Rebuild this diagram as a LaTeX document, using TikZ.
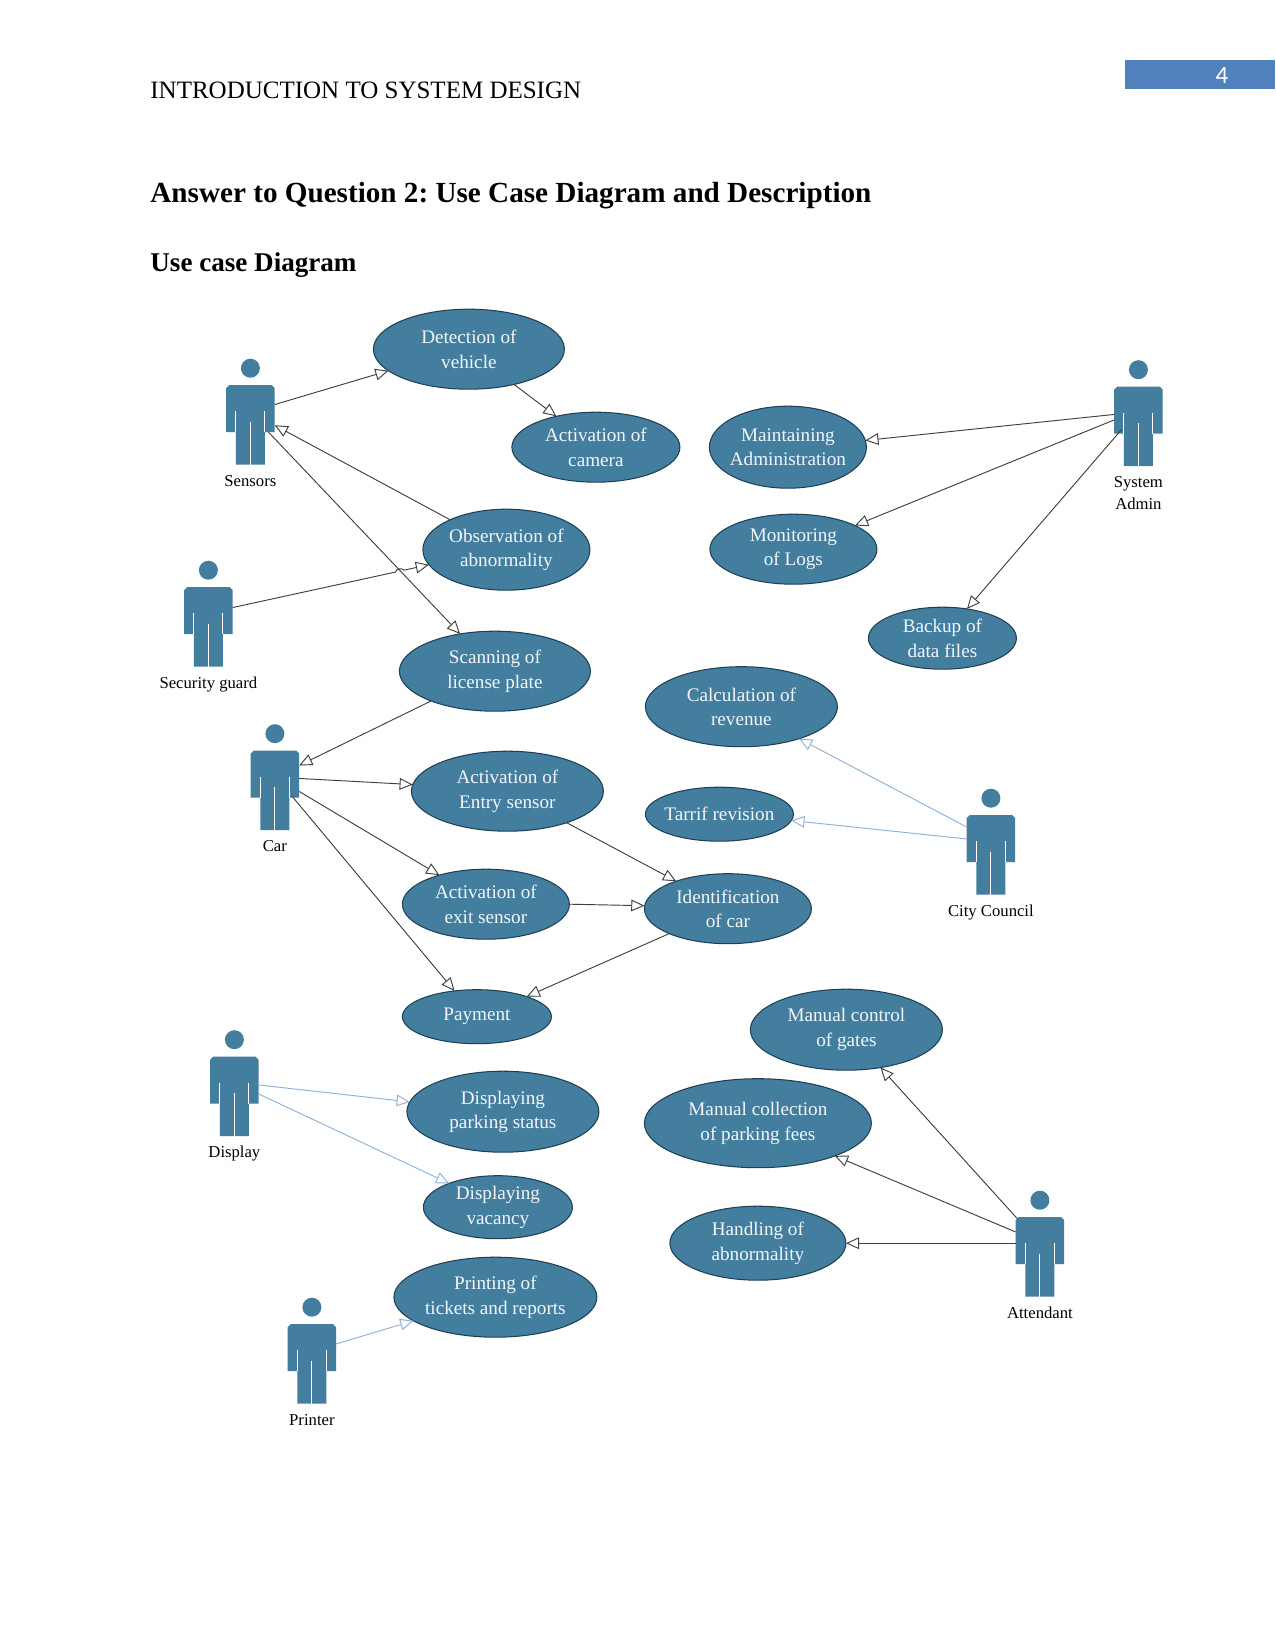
\documentclass[tikz,border=0pt]{standalone}
\usepackage{fontspec}
\setmainfont{Liberation Serif}
\newfontfamily\pagenumfont{Carlito}
\usetikzlibrary{shapes.geometric,arrows.meta,calc}
\definecolor{ucfill}{HTML}{437E9F}
\definecolor{ucedge}{HTML}{1F3F55}
\definecolor{uctext}{HTML}{F2F6F9}
\definecolor{assocdark}{HTML}{3F3F3F}
\definecolor{assoclight}{HTML}{8FB2D8}
\definecolor{bandblue}{HTML}{4F81BD}
\tikzset{
  usecase/.style 2 args={ellipse,draw=ucedge,line width=0.5pt,fill=ucfill,text=uctext,
    minimum width=#1*0.48pt,minimum height=#2*0.48pt,inner ysep=0pt,inner xsep=-4pt,
    outer sep=0pt,align=center,font=\fontsize{9.2}{11.8}\selectfont},
  actorbox/.style={rectangle,minimum width=48.6*0.48pt,minimum height=106.5*0.48pt,
    inner sep=0pt,outer sep=0pt},
  actorlabel/.style={anchor=north,inner sep=0pt,align=center,
    font=\fontsize{8}{10.5}\selectfont},
  assoc/.style={draw=assocdark,line width=0.45pt,
    -{Triangle[open,length=6.3pt,width=5.6pt]}},
  assoclt/.style={assoc,draw=assoclight},
  bodytext/.style={anchor=base west,inner sep=0pt},
}
% Stick figure: #1 name, #2 and #3 centre of the head, #4 caption
\newcommand\actorfig[4]{%
  \begin{scope}[shift={(#2,#3)}]
    \fill[ucfill] (0,0) circle[radius=9.5*0.48pt];
    \fill[ucfill] (-24.3,64) -- (-24.3,20) -- (-21.3,17) -- (21.3,17) -- (24.3,20) -- (24.3,64)
      -- (14.5,64) -- (14.5,96.5) -- (-14.5,96.5) -- (-14.5,64) -- cycle;
    \draw[white,line width=0.45pt] (-14.5,43) -- (-14.5,64) (14.5,43) -- (14.5,64) (0,53.5) -- (0,97);
    \node[actorbox] (#1) at (0,43.75) {};
    \node[actorlabel] (#1-caption) at (0,102.5) {\strut#4};
  \end{scope}}
\begin{document}
\frenchspacing
\begin{tikzpicture}[x=0.48pt,y=-0.48pt]
\path[use as bounding box,fill=white] (0,0) rectangle (1275,1650);

% Running head and headings
\fill[bandblue] (1125,60.5) rectangle (1275,89.5);
\node[text=white,inner sep=0pt,font=\pagenumfont\fontsize{12}{14}\selectfont] (pagenum) at (1222,75) {4};
\node[bodytext,font=\fontsize{12}{14}\selectfont] (runhead) at (150,99) {INTRODUCTION TO SYSTEM DESIGN};
\node[bodytext,font=\bfseries\fontsize{14}{16}\selectfont] (h1) at (150,203) {Answer to Question 2: Use Case Diagram and Description};
\node[bodytext,font=\bfseries\fontsize{13}{15}\selectfont] (h2) at (150,272) {Use case Diagram};

\begin{scope}[shift={(0.4,0.2)}]
% Use cases
\node[usecase={191}{80}] (detect) at (468.5,349) {Detection of\\ vehicle};
\node[usecase={168}{70}] (camera) at (595.5,447) {Activation of\\ camera};
\node[usecase={167}{81}] (observe) at (506,549.5) {Observation of\\ abnormality};
\node[usecase={191}{80}] (scan) at (494.5,671) {Scanning of\\ license plate};
\node[usecase={157}{82}] (maintain) at (787.5,447) {Maintaining\\ Administration};
\node[usecase={167}{70}] (monitor) at (793,549) {Monitoring\\ of Logs};
\node[usecase={148}{62}] (backup) at (942,638) {Backup of\\ data files};
\node[usecase={192}{80}] (revenue) at (741,706.5) {Calculation of\\ revenue};
\node[usecase={148}{54}] (tariff) at (719,814) {Tarrif revision};
\node[usecase={192}{80}] (entry) at (507,791) {Activation of\\ Entry sensor};
\node[usecase={167}{70}] (exit) at (485.5,904) {Activation of\\ exit sensor};
\node[usecase={167}{70}] (identify) at (727.5,908.5) {Identification\\ of car};
\node[usecase={149}{54}] (payment) at (476.5,1016.5) {Payment};
\node[usecase={192}{81}] (gates) at (846,1029.5) {Manual control\\ of gates};
\node[usecase={227}{89}] (fees) at (757.5,1123) {Manual collection\\ of parking fees};
\node[usecase={176}{74}] (handling) at (757.5,1243) {Handling of\\ abnormality};
\node[usecase={192}{81}] (status) at (502.5,1111.5) {Displaying\\ parking status};
\node[usecase={149}{63}] (vacancy) at (497.5,1207) {Displaying\\ vacancy};
\node[usecase={203}{80}] (printing) at (495,1297) {Printing of\\ tickets and reports};

% Actors
\actorfig{sensors}{250}{368}{Sensors}
\actorfig{guard}{208}{570}{Security guard}
\actorfig{car}{274.5}{733.5}{Car}
\actorfig{admin}{1138}{369.5}{System\\ Admin}
\actorfig{council}{990.5}{798}{City Council}
\actorfig{display}{234}{1039.5}{Display}
\actorfig{attendant}{1039.5}{1200}{Attendant}
\actorfig{printer}{311.5}{1307}{Printer}

% Associations
\draw[assoc] ([shift={(0,-7.4)}]sensors.east) -- (detect.195.5);
\draw[assoc] (detect.322) -- (camera.142.6);
\draw[assoc] (observe.152) -- ([shift={(0,13.3)}]sensors.east);
\draw[assoc] ([shift={(-6.4,20)}]sensors.east) -- (scan.133);

% The guard's line hops over the sensor line where they cross
\coordinate (guardstart) at ([shift={(0,-6.4)}]guard.east);
\coordinate (guardend) at (observe.191.5);
\draw[assoc] (guardstart) -- ($(guardstart)!0.83!(guardend)$)
  to[bend left=70] ($(guardstart)!0.872!(guardend)$) -- (guardend);

\draw[assoc] (scan.205.8) -- ([shift={(0,-12)}]car.east);
\draw[assoc] ([shift={(0,1)}]car.east) -- (entry.176.4);
\draw[assoc] ([shift={(0,14)}]car.east) -- (exit.148.8);
\draw[assoc] ([shift={(-7,19)}]car.east) -- (payment.131);
\draw[assoc] (entry.332.5) -- (identify.152.2);
\draw[assoc] (exit.east) -- ([shift={(0,-3)}]identify.west);
\draw[assoc] (identify.203) -- (payment.22.8);

\draw[assoc] ([shift={(0,1)}]admin.west) -- (maintain.5.2);
\draw[assoc] ([shift={(0,6.5)}]admin.west) -- (monitor.21.8);
\draw[assoc] ([shift={(7.5,16)}]admin.west) -- (backup.50.2);

\draw[assoclt] ([shift={(0,-15)}]council.west) -- (revenue.331.3);
\draw[assoclt] ([shift={(0,-3)}]council.west) -- (tariff.355);

\draw[assoclt] ([shift={(0,1.5)}]display.east) -- (status.174);
\draw[assoclt] ([shift={(0,10.5)}]display.east) -- (vacancy.154);
\draw[assoclt] ([shift={(0,-7)}]printer.east) -- (printing.196.5);

\draw[assoc] ([shift={(2,-25)}]attendant.west) -- (gates.312);
\draw[assoc] ([shift={(0,-12)}]attendant.west) -- (fees.337);
\draw[assoc] ([shift={(0,-0.75)}]attendant.west) -- (handling.east);
\end{scope}
\end{tikzpicture}
\end{document}
